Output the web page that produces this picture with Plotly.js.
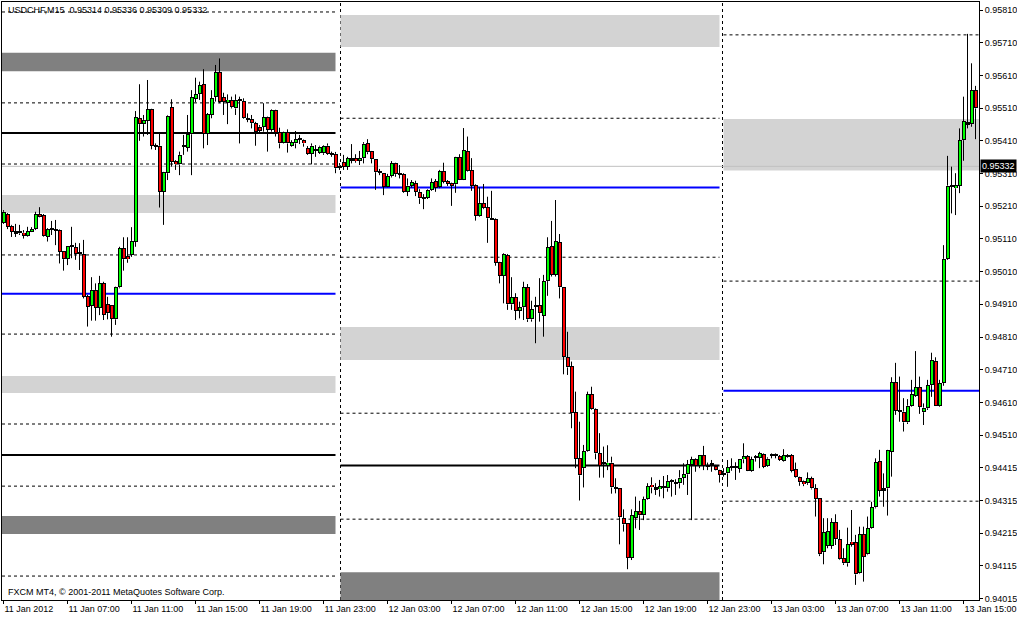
<!DOCTYPE html>
<html>
<head>
<meta charset="utf-8">
<script src="https://cdn.plot.ly/plotly-3.0.1.min.js"></script>
<style>
html,body{margin:0;padding:0;background:#fff;}
#chart{width:1017px;height:618px;}
</style>
</head>
<body>
<div id="chart"></div>
<script>
// ---- OHLC data (USDCHF M15, 11 Jan 2012 03:00 .. 13 Jan 2012 15:45) ----
const open = [
0.95160,0.95186,0.95150,0.95134,0.95134,0.95129,0.95119,0.95132,0.95140,0.95186,
0.95183,0.95117,0.95139,0.95139,0.95137,0.95073,0.95049,0.95087,0.95085,0.95064,
0.95064,0.94935,0.94906,0.94954,0.94900,0.94974,0.94910,0.94908,0.94864,0.94962,
0.95081,0.95057,0.95062,0.95102,0.95479,0.95461,0.95472,0.95507,0.95395,0.95395,
0.95254,0.95311,0.95513,0.95348,0.95338,0.95392,0.95389,0.95430,0.95538,0.95553,
0.95583,0.95431,0.95489,0.95545,0.95620,0.95543,0.95527,0.95535,0.95509,0.95535,
0.95532,0.95479,0.95477,0.95464,0.95453,0.95453,0.95482,0.95443,0.95504,0.95436,
0.95404,0.95436,0.95395,0.95402,0.95414,0.95412,0.95387,0.95370,0.95380,0.95374,
0.95372,0.95395,0.95370,0.95370,0.95328,0.95345,0.95331,0.95351,0.95357,0.95349,
0.95357,0.95403,0.95378,0.95354,0.95314,0.95311,0.95270,0.95302,0.95341,0.95309,
0.95308,0.95254,0.95273,0.95280,0.95254,0.95237,0.95236,0.95260,0.95287,0.95268,
0.95318,0.95287,0.95280,0.95277,0.95360,0.95291,0.95379,0.95320,0.95274,0.95181,
0.95219,0.95207,0.95174,0.95171,0.95039,0.94997,0.95061,0.94910,0.94931,0.94891,
0.94901,0.94962,0.94864,0.94903,0.94907,0.94875,0.94981,0.95087,0.95000,0.95100,
0.94962,0.94748,0.94721,0.94580,0.94439,0.94409,0.94461,0.94635,0.94591,0.94454,
0.94423,0.94417,0.94426,0.94348,0.94347,0.94256,0.94242,0.94135,0.94258,0.94278,
0.94265,0.94314,0.94358,0.94344,0.94344,0.94350,0.94347,0.94368,0.94363,0.94363,
0.94380,0.94390,0.94419,0.94437,0.94417,0.94448,0.94416,0.94419,0.94416,0.94403,
0.94388,0.94393,0.94410,0.94410,0.94407,0.94436,0.94446,0.94401,0.94441,0.94441,
0.94451,0.94417,0.94448,0.94447,0.94446,0.94432,0.94447,0.94448,0.94406,0.94382,
0.94371,0.94363,0.94378,0.94347,0.94317,0.94152,0.94172,0.94172,0.94243,0.94192,
0.94134,0.94118,0.94184,0.94182,0.94087,0.94207,0.94145,0.94225,0.94289,0.94431,
0.94347,0.94347,0.94459,0.94672,0.94584,0.94582,0.94549,0.94600,0.94631,0.94656,
0.94580,0.94592,0.94663,0.94737,0.94600,0.94669,0.95049,0.95270,0.95265,0.95273,
0.95412,0.95467,0.95461,0.95565];
const high = [
0.95198,0.95189,0.95153,0.95156,0.95153,0.95137,0.95147,0.95146,0.95193,0.95207,
0.95186,0.95143,0.95165,0.95168,0.95139,0.95073,0.95088,0.95147,0.95098,0.95097,
0.95107,0.94939,0.94993,0.94974,0.94997,0.94979,0.94933,0.94908,0.94964,0.95086,
0.95115,0.95115,0.95146,0.95501,0.95583,0.95489,0.95596,0.95508,0.95402,0.95433,
0.95315,0.95489,0.95537,0.95351,0.95377,0.95428,0.95489,0.95565,0.95603,0.95591,
0.95629,0.95495,0.95565,0.95642,0.95662,0.95557,0.95552,0.95545,0.95552,0.95545,
0.95540,0.95494,0.95489,0.95468,0.95458,0.95525,0.95484,0.95506,0.95505,0.95450,
0.95438,0.95445,0.95412,0.95440,0.95428,0.95414,0.95394,0.95402,0.95397,0.95395,
0.95397,0.95402,0.95377,0.95376,0.95342,0.95367,0.95361,0.95400,0.95369,0.95379,
0.95406,0.95415,0.95379,0.95354,0.95324,0.95311,0.95309,0.95348,0.95343,0.95336,
0.95311,0.95295,0.95290,0.95288,0.95262,0.95247,0.95262,0.95295,0.95293,0.95321,
0.95343,0.95290,0.95282,0.95361,0.95369,0.95449,0.95423,0.95357,0.95277,0.95268,
0.95278,0.95239,0.95257,0.95173,0.95040,0.95066,0.95064,0.94993,0.94944,0.94918,
0.94979,0.94972,0.94921,0.94933,0.94990,0.95000,0.95115,0.95165,0.95229,0.95125,
0.94962,0.94826,0.94735,0.94643,0.94551,0.94480,0.94643,0.94658,0.94593,0.94516,
0.94475,0.94479,0.94444,0.94378,0.94347,0.94283,0.94242,0.94283,0.94322,0.94309,
0.94322,0.94363,0.94381,0.94363,0.94373,0.94385,0.94388,0.94375,0.94375,0.94403,
0.94424,0.94434,0.94444,0.94439,0.94449,0.94477,0.94426,0.94434,0.94419,0.94404,
0.94409,0.94434,0.94439,0.94427,0.94437,0.94485,0.94449,0.94444,0.94449,0.94459,
0.94454,0.94442,0.94454,0.94454,0.94449,0.94467,0.94452,0.94452,0.94426,0.94383,
0.94373,0.94396,0.94383,0.94360,0.94317,0.94256,0.94256,0.94256,0.94268,0.94220,
0.94164,0.94227,0.94281,0.94205,0.94230,0.94230,0.94261,0.94306,0.94439,0.94465,
0.94393,0.94465,0.94687,0.94731,0.94689,0.94623,0.94620,0.94679,0.94767,0.94689,
0.94607,0.94679,0.94762,0.94748,0.94679,0.95091,0.95364,0.95331,0.95311,0.95448,
0.95545,0.95737,0.95647,0.95578];
const low = [
0.95156,0.95140,0.95116,0.95116,0.95122,0.95111,0.95117,0.95131,0.95137,0.95176,
0.95117,0.95102,0.95122,0.95091,0.95035,0.95013,0.95030,0.95051,0.95046,0.95015,
0.94928,0.94842,0.94860,0.94860,0.94877,0.94862,0.94864,0.94811,0.94847,0.94959,
0.95013,0.95037,0.95055,0.95086,0.95410,0.95423,0.95428,0.95384,0.95382,0.95206,
0.95153,0.95290,0.95331,0.95321,0.95305,0.95367,0.95377,0.95305,0.95528,0.95535,
0.95387,0.95397,0.95479,0.95530,0.95525,0.95489,0.95461,0.95509,0.95489,0.95402,
0.95477,0.95467,0.95448,0.95395,0.95437,0.95438,0.95377,0.95438,0.95423,0.95387,
0.95402,0.95374,0.95392,0.95387,0.95400,0.95392,0.95367,0.95338,0.95361,0.95370,
0.95367,0.95367,0.95361,0.95311,0.95321,0.95321,0.95321,0.95341,0.95343,0.95336,
0.95341,0.95369,0.95341,0.95260,0.95305,0.95244,0.95268,0.95298,0.95300,0.95295,
0.95251,0.95241,0.95267,0.95241,0.95217,0.95201,0.95232,0.95257,0.95254,0.95265,
0.95280,0.95272,0.95211,0.95251,0.95290,0.95290,0.95316,0.95257,0.95166,0.95178,
0.95201,0.95098,0.95168,0.95028,0.94974,0.94913,0.94893,0.94893,0.94862,0.94867,
0.94862,0.94856,0.94857,0.94791,0.94857,0.94811,0.94936,0.94995,0.94995,0.94928,
0.94696,0.94694,0.94531,0.94409,0.94310,0.94350,0.94459,0.94587,0.94436,0.94380,
0.94380,0.94403,0.94331,0.94332,0.94176,0.94215,0.94100,0.94128,0.94225,0.94220,
0.94250,0.94312,0.94332,0.94327,0.94322,0.94317,0.94337,0.94322,0.94327,0.94347,
0.94358,0.94327,0.94250,0.94398,0.94409,0.94403,0.94403,0.94398,0.94402,0.94365,
0.94383,0.94352,0.94401,0.94373,0.94395,0.94424,0.94400,0.94398,0.94429,0.94409,
0.94409,0.94413,0.94439,0.94439,0.94431,0.94429,0.94441,0.94396,0.94379,0.94355,
0.94354,0.94358,0.94344,0.94261,0.94140,0.94115,0.94164,0.94162,0.94174,0.94128,
0.94113,0.94108,0.94169,0.94052,0.94085,0.94062,0.94143,0.94223,0.94286,0.94322,
0.94291,0.94264,0.94383,0.94572,0.94551,0.94521,0.94544,0.94597,0.94627,0.94575,
0.94541,0.94587,0.94627,0.94599,0.94597,0.94661,0.95046,0.95188,0.95183,0.95250,
0.95349,0.95448,0.95453,0.95415];
const close = [
0.95193,0.95147,0.95132,0.95128,0.95127,0.95119,0.95134,0.95140,0.95186,0.95178,
0.95119,0.95139,0.95140,0.95137,0.95071,0.95048,0.95087,0.95086,0.95064,0.95065,
0.94933,0.94903,0.94954,0.94900,0.94974,0.94878,0.94883,0.94866,0.94962,0.95081,
0.95048,0.95048,0.95104,0.95482,0.95461,0.95474,0.95507,0.95395,0.95394,0.95254,
0.95314,0.95487,0.95346,0.95338,0.95367,0.95393,0.95430,0.95543,0.95553,0.95580,
0.95431,0.95491,0.95540,0.95620,0.95530,0.95530,0.95535,0.95513,0.95535,0.95534,
0.95479,0.95476,0.95464,0.95438,0.95440,0.95482,0.95443,0.95504,0.95433,0.95402,
0.95436,0.95402,0.95405,0.95415,0.95415,0.95402,0.95370,0.95395,0.95381,0.95392,
0.95395,0.95370,0.95369,0.95326,0.95334,0.95331,0.95357,0.95357,0.95348,0.95357,
0.95401,0.95375,0.95354,0.95314,0.95313,0.95270,0.95302,0.95342,0.95308,0.95308,
0.95254,0.95273,0.95284,0.95254,0.95234,0.95233,0.95260,0.95283,0.95267,0.95318,
0.95285,0.95278,0.95272,0.95360,0.95291,0.95381,0.95319,0.95273,0.95181,0.95220,
0.95204,0.95173,0.95170,0.95037,0.94998,0.95063,0.94910,0.94931,0.94891,0.94901,
0.94962,0.94864,0.94895,0.94902,0.94883,0.94981,0.95084,0.95000,0.95103,0.94962,
0.94750,0.94717,0.94577,0.94438,0.94387,0.94461,0.94635,0.94589,0.94454,0.94417,
0.94424,0.94426,0.94350,0.94347,0.94259,0.94237,0.94135,0.94266,0.94278,0.94265,
0.94314,0.94354,0.94350,0.94350,0.94354,0.94351,0.94370,0.94369,0.94362,0.94380,
0.94390,0.94421,0.94437,0.94416,0.94448,0.94417,0.94415,0.94420,0.94403,0.94388,
0.94395,0.94412,0.94411,0.94411,0.94436,0.94446,0.94401,0.94436,0.94442,0.94454,
0.94413,0.94438,0.94449,0.94448,0.94434,0.94448,0.94446,0.94400,0.94381,0.94366,
0.94360,0.94378,0.94347,0.94315,0.94146,0.94213,0.94217,0.94243,0.94192,0.94130,
0.94118,0.94176,0.94174,0.94084,0.94207,0.94138,0.94225,0.94289,0.94427,0.94340,
0.94340,0.94464,0.94672,0.94584,0.94583,0.94549,0.94600,0.94635,0.94656,0.94597,
0.94594,0.94663,0.94740,0.94600,0.94669,0.95049,0.95273,0.95269,0.95275,0.95412,
0.95470,0.95461,0.95565,0.95509];

// ---- axis labels ----
const timeTickBars = [0,16,32,48,64,80,96,112,128,144,160,176,192,208,224,240];
const timeTickLabels = ["11 Jan 2012","11 Jan 07:00","11 Jan 11:00","11 Jan 15:00","11 Jan 19:00",
  "11 Jan 23:00","12 Jan 03:00","12 Jan 07:00","12 Jan 11:00","12 Jan 15:00","12 Jan 19:00",
  "12 Jan 23:00","13 Jan 03:00","13 Jan 07:00","13 Jan 11:00","13 Jan 15:00"];
const priceTickVals = [0.9581,0.9571,0.9561,0.9551,0.9541,0.9531,0.9521,0.9511,0.9501,0.9491,
  0.9481,0.9471,0.9461,0.9451,0.9441,0.9431,0.9421,0.9411,0.9401];
const priceTickLabels = ["0.95810","0.95710","0.95610","0.95510","0.95410","0.95310","0.95210",
  "0.95110","0.95010","0.94910","0.94810","0.94710","0.94610","0.94510","0.94415","0.94315",
  "0.94215","0.94115","0.94015"];

// ---- daily pivot levels (one entry per day) ----
const daySeparators = [84.25, 179.75];
const dayStart = [-0.375, 84.25, 180];
const dayEnd = [83, 179, 244];
const dashedLevels = [
  [0.95804,0.95526,0.95339,0.95061,0.94819,0.94544,0.94354,0.94079],
  [0.95479,0.95054,0.94577,0.94253],
  [0.95734,0.94981,0.94308]];
const blackLevels = [[0.95434,0.94449],[0.94417],[]];
const blueLevels = [[0.94942],[0.95267],[0.94646]];
const darkZones = [[[0.95623,0.95679],[0.94208,0.94263]],[[0.94000,0.94091]],[]];
const lightZones = [[[0.95189,0.95244],[0.94639,0.94691]],[[0.95697,0.95795],[0.94740,0.94841]],[[0.95319,0.95477]]];
const lastPrice = 0.95332;
const headerText = "USDCHF,M15  0.95314 0.95336 0.95309 0.95332";
const footerText = "FXCM MT4, © 2001-2011 MetaQuotes Software Corp.";

const FONT = "'Liberation Sans', Arial, sans-serif";
const Y_RANGE = [0.940058, 0.958345];
const PLOT_H = 598;                             // plot height in px
const PX = (Y_RANGE[1] - Y_RANGE[0]) / PLOT_H;  // one pixel in price units (outline thickness)

// ---- build candle parts from the OHLC arrays ----
const bodyX = [], bodyBase = [], bodySize = [];
const upX = [], upBase = [], upSize = [];
const dnX = [], dnBase = [], dnSize = [];
const wickX = [], wickY = [];
for (let i = 0; i < open.length; i++) {
  const top = Math.max(open[i], close[i]);
  const bot = Math.min(open[i], close[i]);
  bodyX.push(i); bodyBase.push(bot); bodySize.push(Math.max(top - bot, PX));
  if (top - bot > 2.5 * PX) {
    if (close[i] >= open[i]) { upX.push(i); upBase.push(bot + PX); upSize.push(top - bot - 2 * PX); }
    else { dnX.push(i); dnBase.push(bot + PX); dnSize.push(top - bot - 2 * PX); }
  }
  if (high[i] > top) { wickX.push(i, i, null); wickY.push(top, high[i], null); }
  if (low[i] < bot) { wickX.push(i, i, null); wickY.push(bot, low[i], null); }
}

const shapes = [];
for (let d = 0; d < 3; d++) {
  darkZones[d].forEach(z => shapes.push({type:'rect', layer:'below', xref:'x', yref:'y',
    x0: dayStart[d], x1: dayEnd[d], y0: z[0], y1: z[1], fillcolor:'#808080', line:{width:0}}));
  lightZones[d].forEach(z => shapes.push({type:'rect', layer:'below', xref:'x', yref:'y',
    x0: dayStart[d], x1: dayEnd[d], y0: z[0], y1: z[1], fillcolor:'#d3d3d3', line:{width:0}}));
}
shapes.push({type:'line', layer:'below', xref:'x', yref:'y', x0:-0.375, x1:244, y0:lastPrice, y1:lastPrice,
  line:{color:'#c0c0c0', width:1}});
for (let d = 0; d < 3; d++) {
  dashedLevels[d].forEach(v => shapes.push({type:'line', layer:'below', xref:'x', yref:'y',
    x0: dayStart[d], x1: dayEnd[d], y0: v, y1: v, line:{color:'#000', width:1, dash:'3px,3px'}}));
  blackLevels[d].forEach(v => shapes.push({type:'line', layer:'below', xref:'x', yref:'y',
    x0: dayStart[d], x1: dayEnd[d], y0: v, y1: v, line:{color:'#000', width:2}}));
  blueLevels[d].forEach(v => shapes.push({type:'line', layer:'below', xref:'x', yref:'y',
    x0: dayStart[d], x1: dayEnd[d], y0: v, y1: v, line:{color:'#0000ff', width:2}}));
}
daySeparators.forEach(s => shapes.push({type:'line', layer:'below', xref:'x', yref:'paper',
  x0: s, x1: s, y0: 0, y1: 1, line:{color:'#000', width:1, dash:'3px,3px'}}));

const traces = [
  {type:'bar', x: bodyX, y: bodySize, base: bodyBase, width: 1.0,
   marker:{color:'#000', line:{width:0}}, hoverinfo:'skip', showlegend:false},
  {type:'bar', x: upX, y: upSize, base: upBase, width: 0.5,
   marker:{color:'#00ff00', line:{width:0}}, hoverinfo:'skip', showlegend:false},
  {type:'bar', x: dnX, y: dnSize, base: dnBase, width: 0.5,
   marker:{color:'#ff0000', line:{width:0}}, hoverinfo:'skip', showlegend:false},
  {type:'scatter', mode:'lines', x: wickX, y: wickY, connectgaps:false,
   line:{color:'#000', width:1}, hoverinfo:'skip', showlegend:false}
];

const layout = {
  width: 1017, height: 618,
  margin: {l:2, r:38, t:2, b:18, pad:0},
  paper_bgcolor: '#fff', plot_bgcolor: '#fff',
  showlegend: false,
  barmode: 'overlay', bargap: 0, bargroupgap: 0,
  font: {family: FONT, size: 9, color: '#000'},
  xaxis: {
    range: [-0.375, 243.875],
    showgrid: false, zeroline: false,
    showline: true, linecolor: '#000', linewidth: 1, mirror: true,
    tickmode: 'array', tickvals: timeTickBars, ticktext: timeTickLabels,
    ticks: 'outside', ticklen: 3, tickcolor: '#000', tickwidth: 1,
    ticklabelposition: 'outside right',
    tickfont: {family: FONT, size: 9, color: '#000'}
  },
  yaxis: {
    side: 'right',
    range: Y_RANGE,
    showgrid: false, zeroline: false,
    showline: true, linecolor: '#000', linewidth: 1, mirror: true,
    tickmode: 'array', tickvals: priceTickVals, ticktext: priceTickLabels,
    ticks: 'outside', ticklen: 3, tickcolor: '#000', tickwidth: 1,
    tickfont: {family: FONT, size: 9, color: '#000'}
  },
  shapes: shapes,
  annotations: [
    {xref:'paper', yref:'paper', x:0.004, y:0.9866, xanchor:'left', yanchor:'middle',
     text: headerText, showarrow:false, font:{family:FONT, size:9, color:'#000'}},
    {xref:'paper', yref:'paper', x:0.004, y:0.0134, xanchor:'left', yanchor:'middle',
     text: footerText, showarrow:false, font:{family:FONT, size:9, color:'#000'}},
    {xref:'paper', yref:'y', x:1, y:lastPrice, xanchor:'left', yanchor:'middle', xshift:1,
     text: lastPrice.toFixed(5), showarrow:false, bgcolor:'#000', borderpad:1,
     font:{family:FONT, size:9, color:'#fff'}}
  ]
};

Plotly.newPlot('chart', traces, layout, {displayModeBar:false});
</script>
</body>
</html>
